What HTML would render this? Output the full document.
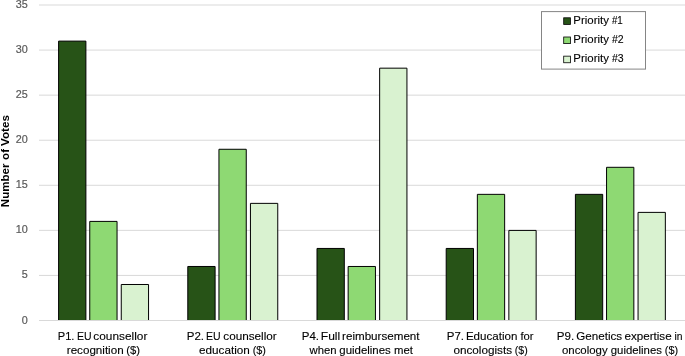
<!DOCTYPE html>
<html><head><meta charset="utf-8"><title>Chart</title>
<style>html,body{margin:0;padding:0;background:#fff;}svg{display:block;}text{font-family:"Liberation Sans",sans-serif;}</style></head>
<body>
<svg width="685" height="356" viewBox="0 0 685 356">
<rect width="685" height="356" fill="#fff"/>
<defs><filter id="tf" x="-5%" y="-5%" width="110%" height="110%" color-interpolation-filters="sRGB"><feGaussianBlur stdDeviation="0.25"/></filter></defs>
<line x1="39.0" x2="685" y1="275.43" y2="275.43" stroke="#D9D9D9" stroke-width="1"/>
<line x1="39.0" x2="685" y1="230.36" y2="230.36" stroke="#D9D9D9" stroke-width="1"/>
<line x1="39.0" x2="685" y1="185.29" y2="185.29" stroke="#D9D9D9" stroke-width="1"/>
<line x1="39.0" x2="685" y1="140.22" y2="140.22" stroke="#D9D9D9" stroke-width="1"/>
<line x1="39.0" x2="685" y1="95.15" y2="95.15" stroke="#D9D9D9" stroke-width="1"/>
<line x1="39.0" x2="685" y1="50.08" y2="50.08" stroke="#D9D9D9" stroke-width="1"/>
<line x1="39.0" x2="685" y1="5.01" y2="5.01" stroke="#D9D9D9" stroke-width="1"/>
<rect x="58.60" y="41.12" width="27.30" height="279.38" fill="#275317"/><path d="M58.60 320.50V41.12H85.90V320.50" fill="none" stroke="#000" stroke-width="1"/>
<rect x="89.75" y="221.40" width="27.30" height="99.10" fill="#8ED973"/><path d="M89.75 320.50V221.40H117.05V320.50" fill="none" stroke="#000" stroke-width="1"/>
<rect x="121.25" y="284.49" width="27.30" height="36.01" fill="#D9F2D0"/><path d="M121.25 320.50V284.49H148.55V320.50" fill="none" stroke="#000" stroke-width="1"/>
<rect x="187.80" y="266.47" width="27.30" height="54.03" fill="#275317"/><path d="M187.80 320.50V266.47H215.10V320.50" fill="none" stroke="#000" stroke-width="1"/>
<rect x="218.95" y="149.28" width="27.30" height="171.22" fill="#8ED973"/><path d="M218.95 320.50V149.28H246.25V320.50" fill="none" stroke="#000" stroke-width="1"/>
<rect x="250.45" y="203.37" width="27.30" height="117.13" fill="#D9F2D0"/><path d="M250.45 320.50V203.37H277.75V320.50" fill="none" stroke="#000" stroke-width="1"/>
<rect x="317.00" y="248.44" width="27.30" height="72.06" fill="#275317"/><path d="M317.00 320.50V248.44H344.30V320.50" fill="none" stroke="#000" stroke-width="1"/>
<rect x="348.15" y="266.47" width="27.30" height="54.03" fill="#8ED973"/><path d="M348.15 320.50V266.47H375.45V320.50" fill="none" stroke="#000" stroke-width="1"/>
<rect x="379.65" y="68.16" width="27.30" height="252.34" fill="#D9F2D0"/><path d="M379.65 320.50V68.16H406.95V320.50" fill="none" stroke="#000" stroke-width="1"/>
<rect x="446.20" y="248.44" width="27.30" height="72.06" fill="#275317"/><path d="M446.20 320.50V248.44H473.50V320.50" fill="none" stroke="#000" stroke-width="1"/>
<rect x="477.35" y="194.35" width="27.30" height="126.15" fill="#8ED973"/><path d="M477.35 320.50V194.35H504.65V320.50" fill="none" stroke="#000" stroke-width="1"/>
<rect x="508.85" y="230.41" width="27.30" height="90.09" fill="#D9F2D0"/><path d="M508.85 320.50V230.41H536.15V320.50" fill="none" stroke="#000" stroke-width="1"/>
<rect x="575.40" y="194.35" width="27.30" height="126.15" fill="#275317"/><path d="M575.40 320.50V194.35H602.70V320.50" fill="none" stroke="#000" stroke-width="1"/>
<rect x="606.55" y="167.31" width="27.30" height="153.19" fill="#8ED973"/><path d="M606.55 320.50V167.31H633.85V320.50" fill="none" stroke="#000" stroke-width="1"/>
<rect x="638.05" y="212.38" width="27.30" height="108.12" fill="#D9F2D0"/><path d="M638.05 320.50V212.38H665.35V320.50" fill="none" stroke="#000" stroke-width="1"/>
<line x1="39.0" x2="685" y1="320.50" y2="320.50" stroke="#D9D9D9" stroke-width="1"/>
<g filter="url(#tf)">
<text x="27.8" y="323.55" font-size="10.8" fill="#595959" stroke="#595959" stroke-width="0.2" text-anchor="end">0</text>
<text x="27.8" y="278.48" font-size="10.8" fill="#595959" stroke="#595959" stroke-width="0.2" text-anchor="end">5</text>
<text x="27.8" y="233.41" font-size="10.8" fill="#595959" stroke="#595959" stroke-width="0.2" text-anchor="end">10</text>
<text x="27.8" y="188.34" font-size="10.8" fill="#595959" stroke="#595959" stroke-width="0.2" text-anchor="end">15</text>
<text x="27.8" y="143.27" font-size="10.8" fill="#595959" stroke="#595959" stroke-width="0.2" text-anchor="end">20</text>
<text x="27.8" y="98.20" font-size="10.8" fill="#595959" stroke="#595959" stroke-width="0.2" text-anchor="end">25</text>
<text x="27.8" y="53.13" font-size="10.8" fill="#595959" stroke="#595959" stroke-width="0.2" text-anchor="end">30</text>
<text x="27.8" y="8.06" font-size="10.8" fill="#595959" stroke="#595959" stroke-width="0.2" text-anchor="end">35</text>
<text x="57.76" y="339.55" font-size="11" fill="#000" stroke="#000" stroke-width="0.12" textLength="16.64" lengthAdjust="spacingAndGlyphs">P1.</text>
<text x="77.10" y="339.55" font-size="11" fill="#000" stroke="#000" stroke-width="0.12" textLength="14.57" lengthAdjust="spacingAndGlyphs">EU</text>
<text x="93.39" y="339.55" font-size="11" fill="#000" stroke="#000" stroke-width="0.12" textLength="53.95" lengthAdjust="spacingAndGlyphs">counsellor</text>
<text x="186.73" y="339.55" font-size="11" fill="#000" stroke="#000" stroke-width="0.12" textLength="17.26" lengthAdjust="spacingAndGlyphs">P2.</text>
<text x="206.11" y="339.55" font-size="11" fill="#000" stroke="#000" stroke-width="0.12" textLength="14.59" lengthAdjust="spacingAndGlyphs">EU</text>
<text x="223.27" y="339.55" font-size="11" fill="#000" stroke="#000" stroke-width="0.12" textLength="53.45" lengthAdjust="spacingAndGlyphs">counsellor</text>
<text x="301.73" y="339.55" font-size="11" fill="#000" stroke="#000" stroke-width="0.12" textLength="17.26" lengthAdjust="spacingAndGlyphs">P4.</text>
<text x="320.81" y="339.55" font-size="11" fill="#000" stroke="#000" stroke-width="0.12" textLength="19.39" lengthAdjust="spacingAndGlyphs">Full</text>
<text x="342.07" y="339.55" font-size="11" fill="#000" stroke="#000" stroke-width="0.12" textLength="77.49" lengthAdjust="spacingAndGlyphs">reimbursement</text>
<text x="446.73" y="339.55" font-size="11" fill="#000" stroke="#000" stroke-width="0.12" textLength="17.26" lengthAdjust="spacingAndGlyphs">P7.</text>
<text x="465.92" y="339.55" font-size="11" fill="#000" stroke="#000" stroke-width="0.12" textLength="51.43" lengthAdjust="spacingAndGlyphs">Education</text>
<text x="520.50" y="339.55" font-size="11" fill="#000" stroke="#000" stroke-width="0.12" textLength="13.12" lengthAdjust="spacingAndGlyphs">for</text>
<text x="556.73" y="339.55" font-size="11" fill="#000" stroke="#000" stroke-width="0.12" textLength="17.40" lengthAdjust="spacingAndGlyphs">P9.</text>
<text x="576.28" y="339.55" font-size="11" fill="#000" stroke="#000" stroke-width="0.12" textLength="45.89" lengthAdjust="spacingAndGlyphs">Genetics</text>
<text x="624.42" y="339.55" font-size="11" fill="#000" stroke="#000" stroke-width="0.12" textLength="47.23" lengthAdjust="spacingAndGlyphs">expertise</text>
<text x="674.38" y="339.55" font-size="11" fill="#000" stroke="#000" stroke-width="0.12" textLength="8.03" lengthAdjust="spacingAndGlyphs">in</text>
<text x="66.80" y="353.75" font-size="11" fill="#000" stroke="#000" stroke-width="0.12" textLength="56.84" lengthAdjust="spacingAndGlyphs">recognition</text>
<text x="126.15" y="353.75" font-size="11" fill="#000" stroke="#000" stroke-width="0.12" textLength="13.77" lengthAdjust="spacingAndGlyphs">($)</text>
<text x="199.07" y="353.75" font-size="11" fill="#000" stroke="#000" stroke-width="0.12" textLength="50.81" lengthAdjust="spacingAndGlyphs">education</text>
<text x="252.69" y="353.75" font-size="11" fill="#000" stroke="#000" stroke-width="0.12" textLength="13.27" lengthAdjust="spacingAndGlyphs">($)</text>
<text x="309.58" y="353.75" font-size="11" fill="#000" stroke="#000" stroke-width="0.12" textLength="26.99" lengthAdjust="spacingAndGlyphs">when</text>
<text x="339.28" y="353.75" font-size="11" fill="#000" stroke="#000" stroke-width="0.12" textLength="51.51" lengthAdjust="spacingAndGlyphs">guidelines</text>
<text x="394.07" y="353.75" font-size="11" fill="#000" stroke="#000" stroke-width="0.12" textLength="18.91" lengthAdjust="spacingAndGlyphs">met</text>
<text x="453.42" y="353.75" font-size="11" fill="#000" stroke="#000" stroke-width="0.12" textLength="58.63" lengthAdjust="spacingAndGlyphs">oncologists</text>
<text x="514.78" y="353.75" font-size="11" fill="#000" stroke="#000" stroke-width="0.12" textLength="12.88" lengthAdjust="spacingAndGlyphs">($)</text>
<text x="561.94" y="353.75" font-size="11" fill="#000" stroke="#000" stroke-width="0.12" textLength="45.71" lengthAdjust="spacingAndGlyphs">oncology</text>
<text x="610.78" y="353.75" font-size="11" fill="#000" stroke="#000" stroke-width="0.12" textLength="51.12" lengthAdjust="spacingAndGlyphs">guidelines</text>
<text x="664.79" y="353.75" font-size="11" fill="#000" stroke="#000" stroke-width="0.12" textLength="13.25" lengthAdjust="spacingAndGlyphs">($)</text>
<text transform="translate(9.3,207.2) rotate(-90)" font-size="11" font-weight="bold" fill="#000" textLength="43.6" lengthAdjust="spacingAndGlyphs">Number</text>
<text transform="translate(9.3,159.9) rotate(-90)" font-size="11" font-weight="bold" fill="#000" textLength="10.9" lengthAdjust="spacingAndGlyphs">of</text>
<text transform="translate(9.3,146.0) rotate(-90)" font-size="11" font-weight="bold" fill="#000" textLength="31.0" lengthAdjust="spacingAndGlyphs">Votes</text>
</g>
<rect x="541.5" y="11.6" width="104" height="57.5" fill="#fff" stroke="#858585" stroke-width="1"/>
<g filter="url(#tf)">
<rect x="563.7" y="17.80" width="6.7" height="6.6" fill="#275317" stroke="#000" stroke-width="0.8"/>
<text x="573.3" y="23.8" font-size="11" fill="#000" stroke="#000" stroke-width="0.12" textLength="35.6" lengthAdjust="spacingAndGlyphs">Priority</text>
<text x="611.9" y="23.8" font-size="11" fill="#000" stroke="#000" stroke-width="0.12" textLength="10.9" lengthAdjust="spacingAndGlyphs">#1</text>
<rect x="563.7" y="37.00" width="6.7" height="6.6" fill="#8ED973" stroke="#000" stroke-width="0.8"/>
<text x="573.3" y="43.45" font-size="11" fill="#000" stroke="#000" stroke-width="0.12" textLength="35.6" lengthAdjust="spacingAndGlyphs">Priority</text>
<text x="611.9" y="43.45" font-size="11" fill="#000" stroke="#000" stroke-width="0.12" textLength="11.7" lengthAdjust="spacingAndGlyphs">#2</text>
<rect x="563.7" y="56.15" width="6.7" height="6.6" fill="#D9F2D0" stroke="#000" stroke-width="0.8"/>
<text x="573.3" y="62.45" font-size="11" fill="#000" stroke="#000" stroke-width="0.12" textLength="35.6" lengthAdjust="spacingAndGlyphs">Priority</text>
<text x="611.9" y="62.45" font-size="11" fill="#000" stroke="#000" stroke-width="0.12" textLength="11.7" lengthAdjust="spacingAndGlyphs">#3</text>
</g>
</svg>
</body></html>
